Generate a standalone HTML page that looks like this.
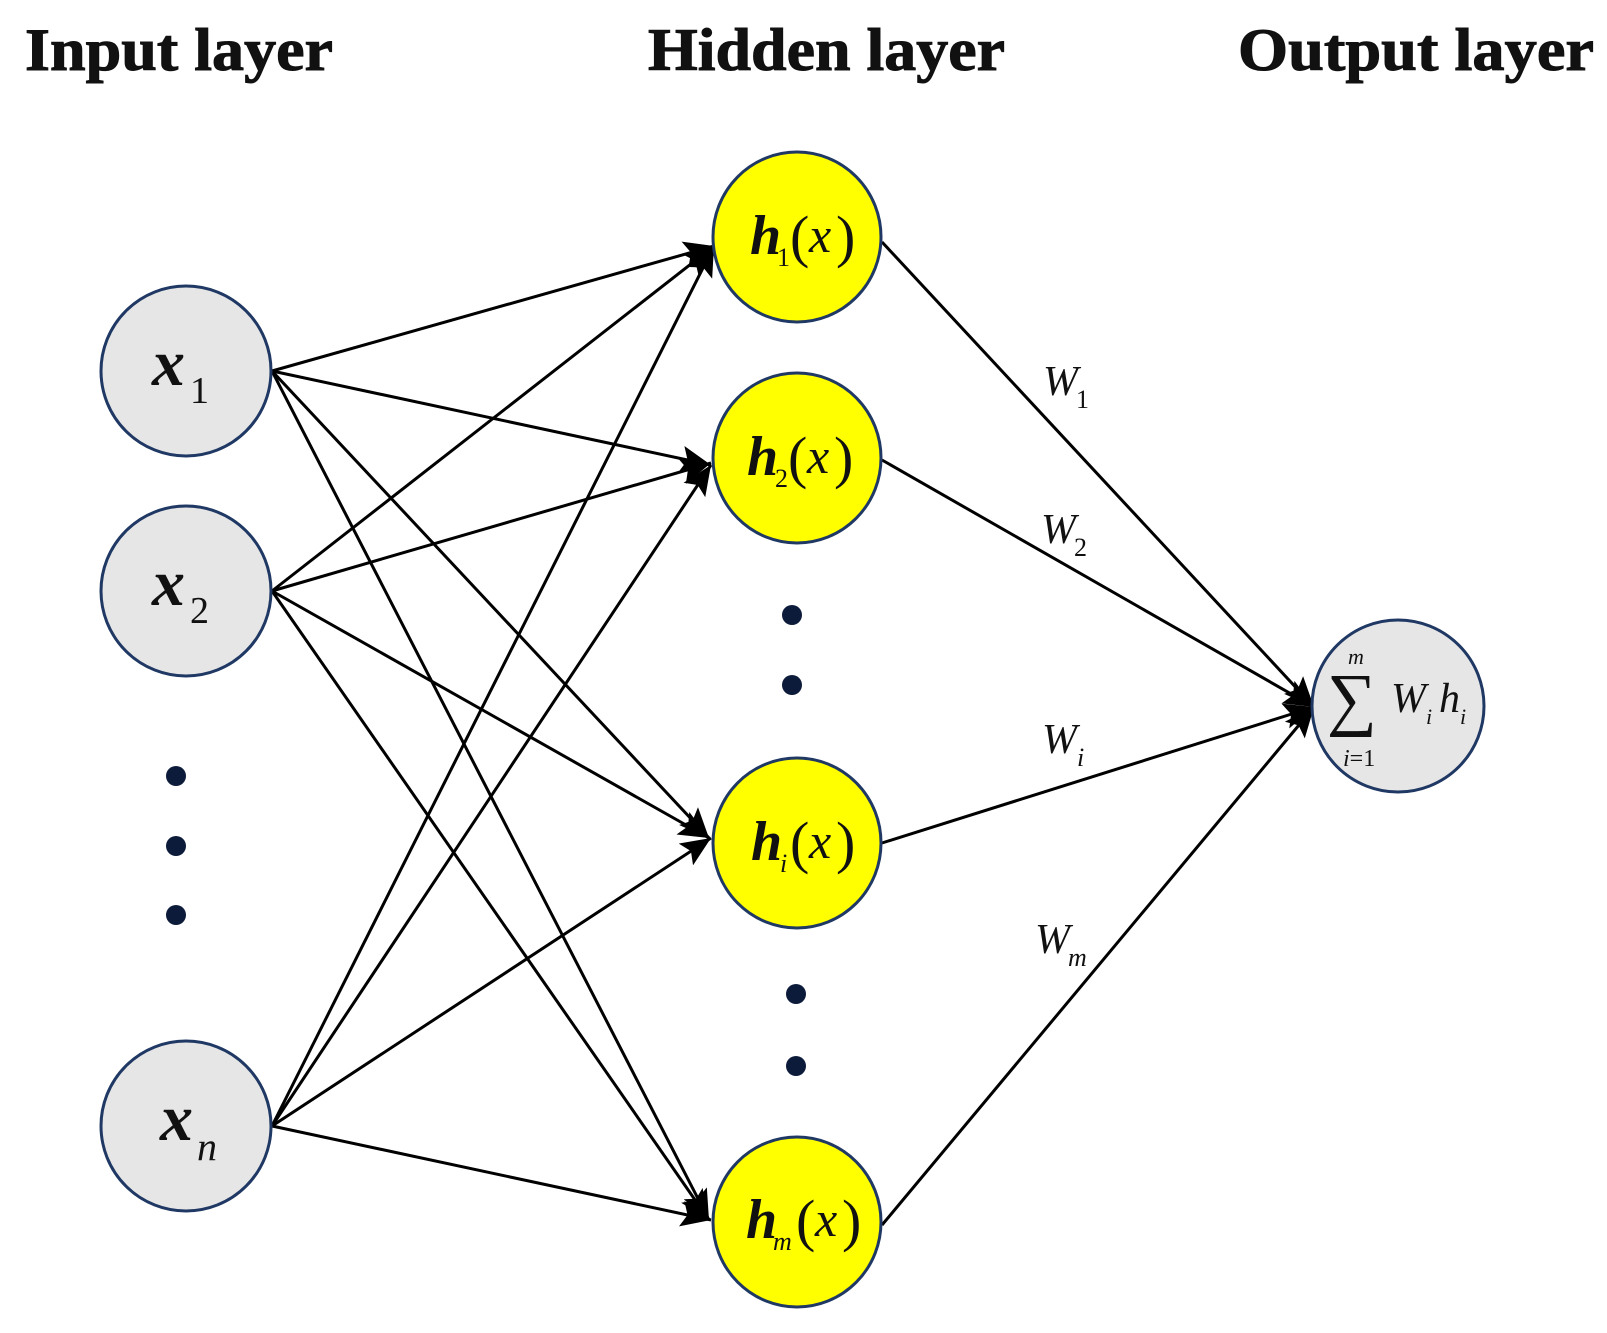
<!DOCTYPE html>
<html><head><meta charset="utf-8"><style>
html,body{margin:0;padding:0;background:#fff;}
svg{display:block;}
text{font-family:"Liberation Serif",serif;}
</style></head><body>
<svg width="1607" height="1333" viewBox="0 0 1607 1333" xmlns="http://www.w3.org/2000/svg">
<defs>
<marker id="a" markerUnits="userSpaceOnUse" markerWidth="32" markerHeight="26" refX="30" refY="13" orient="auto">
<path d="M0,0 L30,13 L0,26 L6,13 z" fill="#000"/>
</marker>
</defs>
<g font-weight="bold" font-size="60" fill="#111" stroke="#111" stroke-width="1">
<text x="25" y="70" textLength="308" lengthAdjust="spacingAndGlyphs">Input layer</text>
<text x="648" y="70" textLength="357" lengthAdjust="spacingAndGlyphs">Hidden layer</text>
<text x="1238" y="70" textLength="356" lengthAdjust="spacingAndGlyphs">Output layer</text>
</g>
<g stroke="#000" stroke-width="3" fill="none" marker-end="url(#a)">
<line x1="272" y1="371" x2="714" y2="246"/>
<line x1="272" y1="371" x2="711" y2="465"/>
<line x1="272" y1="371" x2="709" y2="838"/>
<line x1="272" y1="371" x2="709" y2="1220"/>
<line x1="272" y1="591" x2="714" y2="246"/>
<line x1="272" y1="591" x2="711" y2="463"/>
<line x1="272" y1="591" x2="709" y2="838"/>
<line x1="272" y1="591" x2="709" y2="1220"/>
<line x1="272" y1="1126" x2="714" y2="246"/>
<line x1="272" y1="1126" x2="711" y2="465"/>
<line x1="272" y1="1126" x2="711" y2="838"/>
<line x1="272" y1="1126" x2="711" y2="1220"/>
<line x1="882" y1="242" x2="1314" y2="707"/>
<line x1="882" y1="460" x2="1314" y2="707"/>
<line x1="882" y1="843" x2="1314" y2="707"/>
<line x1="882" y1="1225" x2="1314" y2="707"/>
</g>
<g stroke="#1f3864" stroke-width="3">
<circle cx="186" cy="371" r="85" fill="#e6e6e6"/>
<circle cx="186" cy="591" r="85" fill="#e6e6e6"/>
<circle cx="186" cy="1126" r="85" fill="#e6e6e6"/>
<ellipse cx="797" cy="237" rx="84" ry="85" fill="#ffff00"/>
<ellipse cx="797" cy="458" rx="84" ry="85" fill="#ffff00"/>
<ellipse cx="797" cy="843" rx="84" ry="85" fill="#ffff00"/>
<ellipse cx="797" cy="1222" rx="84" ry="85" fill="#ffff00"/>
<circle cx="1398" cy="706" r="86" fill="#e6e6e6"/>
</g>
<g fill="#0d1b3a">
<circle cx="176" cy="776" r="10"/><circle cx="176" cy="846" r="10"/><circle cx="176" cy="915" r="10"/>
<circle cx="792" cy="615" r="10"/><circle cx="792" cy="685" r="10"/>
<circle cx="796" cy="994" r="10"/><circle cx="796" cy="1066" r="10"/>
</g>
<g fill="#111">
<text x="152" y="385" font-size="66" font-style="italic" font-weight="bold">x</text><text x="190" y="403" font-size="38">1</text>
<text x="152" y="605" font-size="66" font-style="italic" font-weight="bold">x</text><text x="190" y="623" font-size="38">2</text>
<text x="160" y="1140" font-size="66" font-style="italic" font-weight="bold">x</text><text x="197" y="1160" font-size="40" font-style="italic">n</text>

<text x="750" y="254" font-size="56" font-style="italic" font-weight="bold">h</text><text x="777" y="266" font-size="26">1</text><text x="790" y="256" font-size="58">(</text><text x="809" y="252" font-size="50" font-style="italic">x</text><text x="836" y="256" font-size="58">)</text>
<text x="747" y="475" font-size="56" font-style="italic" font-weight="bold">h</text><text x="775" y="487" font-size="26">2</text><text x="788" y="477" font-size="58">(</text><text x="807" y="473" font-size="50" font-style="italic">x</text><text x="834" y="477" font-size="58">)</text>
<text x="751" y="860" font-size="56" font-style="italic" font-weight="bold">h</text><text x="780" y="872" font-size="26" font-style="italic">i</text><text x="790" y="862" font-size="58">(</text><text x="809" y="858" font-size="50" font-style="italic">x</text><text x="836" y="862" font-size="58">)</text>
<text x="746" y="1238" font-size="56" font-style="italic" font-weight="bold">h</text><text x="773" y="1250" font-size="26" font-style="italic">m</text><text x="796" y="1240" font-size="58">(</text><text x="815" y="1236" font-size="50" font-style="italic">x</text><text x="842" y="1240" font-size="58">)</text>

<text x="1043" y="395" font-size="42" font-style="italic">W</text><text x="1076" y="408" font-size="26">1</text>
<text x="1041" y="543" font-size="42" font-style="italic">W</text><text x="1074" y="556" font-size="26">2</text>
<text x="1042" y="753" font-size="42" font-style="italic">W</text><text x="1077" y="766" font-size="26" font-style="italic">i</text>
<text x="1035" y="953" font-size="42" font-style="italic">W</text><text x="1068" y="966" font-size="26" font-style="italic">m</text>

<text x="1348" y="664" font-size="22" font-style="italic">m</text>
<text x="1327" y="722" font-size="70">∑</text>
<text x="1343" y="766" font-size="24"><tspan font-style="italic">i</tspan>=1</text>
<text x="1391" y="712" font-size="42" font-style="italic">W</text><text x="1426" y="724" font-size="22" font-style="italic">i</text>
<text x="1439" y="712" font-size="42" font-style="italic">h</text><text x="1460" y="724" font-size="22" font-style="italic">i</text>
</g>
</svg>
</body></html>
